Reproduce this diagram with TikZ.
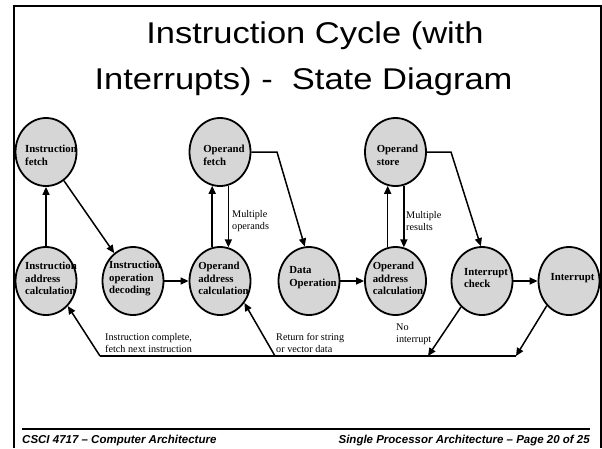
\documentclass[tikz,border=0pt]{standalone}
\usepackage{fontspec}
\setmainfont{Liberation Serif}
\newfontfamily\slidefont{Liberation Sans}
\newfontfamily\titlefont[FakeStretch=1.15]{Liberation Sans}
\usetikzlibrary{arrows.meta,shapes.geometric}
\definecolor{statefill}{RGB}{214,214,214}
\tikzset{
  state/.style={ellipse, draw=black, line width=1.8pt, fill=statefill,
    minimum width=61pt, minimum height=68pt, inner sep=0pt},
  statetext/.style={align=left, inner sep=0pt,
    font=\fontsize{10.8}{12.8}\selectfont\bfseries},
  edgetext/.style={align=left, inner sep=0pt, anchor=west,
    font=\fontsize{10.2}{12}\selectfont},
  flow/.style={line width=1.5pt, -{Triangle[length=8pt,width=7pt]}},
  plain/.style={line width=1.5pt},
  frameline/.style={line width=2.6pt},
  titletext/.style={inner sep=0pt, anchor=base,
    font=\titlefont\fontsize{30}{36}\selectfont},
  foottext/.style={inner sep=0pt,
    font=\slidefont\fontsize{11.5}{13}\selectfont\bfseries\itshape}
}
\begin{document}
\begin{tikzpicture}[x=1pt,y=-1pt]
\useasboundingbox (0,0) rectangle (602,448);

% slide frame and footer rule
\coordinate (fl1) at (14,4.7);   \coordinate (fl2) at (14,448);
\coordinate (ft1) at (12.7,6);   \coordinate (ft2) at (602,6);
\coordinate (fr1) at (600.8,4.7); \coordinate (fr2) at (600.8,448);
\coordinate (fb1) at (22,429);   \coordinate (fb2) at (590,429);
\draw[frameline] (fl1) -- (fl2);
\draw[frameline] (ft1) -- (ft2);
\draw[line width=2pt] (fr1) -- (fr2);
\draw[line width=2.8pt] (fb1) -- (fb2);

% title
\node[titletext] (title1) at (315,43) {Instruction Cycle (with};
\node[titletext] (title2) at (303.5,89) {Interrupts) -\ \ State Diagram};

% states
\node[state] (IF)   at (46,152)  {};
\node[state] (OF)   at (220,152) {};
\node[state] (OS)   at (395.5,152) {};
\node[state] (IAC)  at (46,281)  {};
\node[state] (IOD)  at (133,281) {};
\node[state] (OAC)  at (220,281) {};
\node[state] (DO)   at (309,281) {};
\node[state] (OAC2) at (395.5,281) {};
\node[state] (IC)   at (482,281) {};
\node[state] (INT)  at (569,281) {};

\node[statetext] (IFt)   at (51,155.5)  {Instruction\\fetch};
\node[statetext] (OFt)   at (224,155)   {Operand\\fetch};
\node[statetext] (OSt)   at (397.5,155.5) {Operand\\store};
\node[statetext] (IACt)  at (51,278.5)  {Instruction\\address\\calculation};
\node[statetext] (IODt)  at (135,278.5) {Instruction\\operation\\decoding};
\node[statetext] (OACt)  at (223.5,278.5) {Operand\\address\\calculation};
\node[statetext] (DOt)   at (313,278)   {Data\\Operation};
\node[statetext] (OAC2t) at (398,278.5) {Operand\\address\\calculation};
\node[statetext] (ICt)   at (486,278)   {Interrupt\\check};
\node[statetext] (INTt)  at (572.5,278) {Interrupt};

% bends and junctions
\coordinate (ofk) at (277,152);
\coordinate (osk) at (451,152);
\coordinate (m1)  at (428,356);
\coordinate (m2)  at (516,356);
\coordinate (r1)  at (100,356);
\coordinate (r2)  at (275,356);

% transitions
\draw[flow] (IAC.north) -- (IF.south);
\draw[flow] (IF.-58) -- (IOD.124.6);
\draw[flow] (IOD.east) -- (OAC.west);
\draw[flow] (OAC.103.1) -- (OF.-103.1);
\draw[flow] (OF.-76.9) -- (OAC.76.9);
\draw[flow] (OF.east) -- (ofk) -- (DO.97);
\draw[flow] (DO.east) -- (OAC2.west);
\draw[flow] (OAC2.103.1) -- (OS.-103.1);
\draw[flow] (OS.-76.9) -- (OAC2.76.9);
\draw[flow] (OS.east) -- (osk) -- (IC.92);
\draw[flow] (IC.east) -- (INT.west);
\draw[flow] (IC.231.6) -- (m1);
\draw[flow] (INT.228.8) -- (m2);
\draw[plain] (m2) -- (r1);
\draw[flow] (r1) -- (IAC.-49);
\draw[flow] (r2) -- (OAC.-42);

% transition labels
\node[edgetext] (lmo) at (232,221.5) {Multiple\\operands};
\node[edgetext] (lmr) at (406,221.5) {Multiple\\results};
\node[edgetext] (lic) at (105,343) {Instruction complete,\\fetch next instruction};
\node[edgetext] (lrs) at (276,343) {Return for string\\or vector data};
\node[edgetext] (lni) at (396,334.5) {No\\interrupt};

% footer
\node[foottext, anchor=base west] (footl) at (22,443) {CSCI 4717 – Computer Architecture};
\node[foottext, anchor=base east] (footr) at (590,443) {Single Processor Architecture – Page 20 of 25};
\end{tikzpicture}
\end{document}
